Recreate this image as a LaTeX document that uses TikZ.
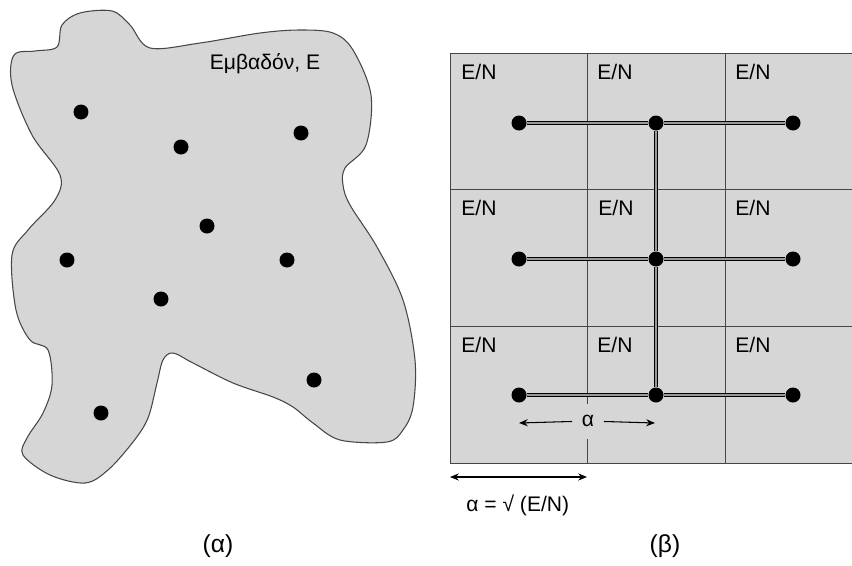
\documentclass[tikz,border=0pt]{standalone}
\usepackage{fontspec}
\setmainfont{Liberation Sans}
\usetikzlibrary{arrows.meta}
\definecolor{areagray}{RGB}{214,214,214}
\definecolor{edgegray}{RGB}{70,70,70}
\tikzset{
  spot/.style={circle, fill=black, inner sep=0pt, minimum size=0.3cm},
  cell/.style={anchor=base west, inner sep=0pt, font=\fontsize{12}{14}\selectfont},
  link/.style={draw=black, line width=0.85pt, double=gray!80, double distance=0.6pt},
  measure/.style={line width=0.6pt, -{Stealth[length=5pt,width=4pt]}},
  caption/.style={font=\fontsize{12}{14}\selectfont}
}
\begin{document}
\begin{tikzpicture}[x=0.02cm, y=-0.02cm]
\useasboundingbox (0,0) rectangle (852,565);
%% (a) the area
\draw[edgegray, fill=areagray, line width=0.6pt] plot[smooth cycle, tension=0.55] coordinates {
 (14,55) (35,51) (57,47) (62,25) (80,13) (112,11) (130,25) (150,48) (200,43) (260,33)
 (300,30) (333,33) (353,50) (371,95) (366,145) (345,168) (343,185) (350,205) (377,247)
 (403,300) (415,360) (413,407) (403,430) (387,442) (340,440) (313,423) (293,407)
 (273,397) (233,383) (193,363) (173,353) (163,360) (157,383) (148,418) (133,442)
 (108,470) (85,483) (50,475) (23,455) (27,438) (43,413) (52,385) (48,350) (30,340)
 (16,310) (12,255) (28,230) (55,200) (60,175) (32,135) (12,85)};
\node[caption] (area) at (265,64) {Εμβαδόν, Ε};
\node[spot] (p1) at (81,112) {};
\node[spot] (p2) at (181,147) {};
\node[spot] (p3) at (301,133) {};
\node[spot] (p4) at (207,226) {};
\node[spot] (p5) at (67,260) {};
\node[spot] (p6) at (287,260) {};
\node[spot] (p7) at (161,299) {};
\node[spot] (p8) at (314,380) {};
\node[spot] (p9) at (101,413) {};
%% (b) the grid
\fill[areagray] (450,53) rectangle (852,463);
\draw[edgegray] (852,53) -- (450,53) -- (450,463) -- (852,463); % border
\draw[edgegray] (450,189) -- (852,189); % row line
\draw[edgegray] (450,326) -- (852,326); % row line
\draw[edgegray] (587,53) -- (587,463); % column line
\draw[edgegray] (725,53) -- (725,463); % column line
%%Labels of the cells are typeset.
\node[cell] (c11) at (461,79) {E/N};
\node[cell] (c12) at (597,79) {E/N};
\node[cell] (c13) at (735,79) {E/N};
\node[cell] (c21) at (461,215) {E/N};
\node[cell] (c22) at (598,215) {E/N};
\node[cell] (c23) at (735,215) {E/N};
\node[cell] (c31) at (461,352) {E/N};
\node[cell] (c32) at (597,352) {E/N};
\node[cell] (c33) at (735,352) {E/N};
\node[spot] (g11) at (519,123) {};
\node[spot] (g12) at (656,123) {};
\node[spot] (g13) at (793,123) {};
\node[spot] (g21) at (519,259) {};
\node[spot] (g22) at (656,259) {};
\node[spot] (g23) at (793,259) {};
\node[spot] (g31) at (519,395) {};
\node[spot] (g32) at (656,395) {};
\node[spot] (g33) at (793,395) {};
\draw[link] (g11) -- (g12) -- (g13); % top row
\draw[link] (g21) -- (g22) -- (g23); % middle row
\draw[link] (g31) -- (g32) -- (g33); % bottom row
\draw[link] (g12) -- (g22) -- (g32); % column
%% spacing
\coordinate (aL) at (519,423);
\coordinate (aR) at (655,423);
\node[caption, fill=areagray, minimum width=0.62cm, minimum height=0.7cm, inner sep=0pt] (alpha) at (588,421) {α};
\draw[measure] (alpha) -- (aL);
\draw[measure] (alpha) -- (aR);
\coordinate (sL) at (450,477);
\coordinate (sR) at (587,477);
\draw[measure, {Stealth[length=5pt,width=4pt]}-{Stealth[length=5pt,width=4pt]}] (sL) -- (sR);
\node[caption, anchor=west, inner sep=0pt] (side) at (466,505) {α = √ (E/N)};
%% captions
\node[font=\fontsize{14}{16}\selectfont] (capa) at (218,546) {(α)};
\node[font=\fontsize{14}{16}\selectfont] (capb) at (665,546) {(β)};
\end{tikzpicture}
\end{document}
